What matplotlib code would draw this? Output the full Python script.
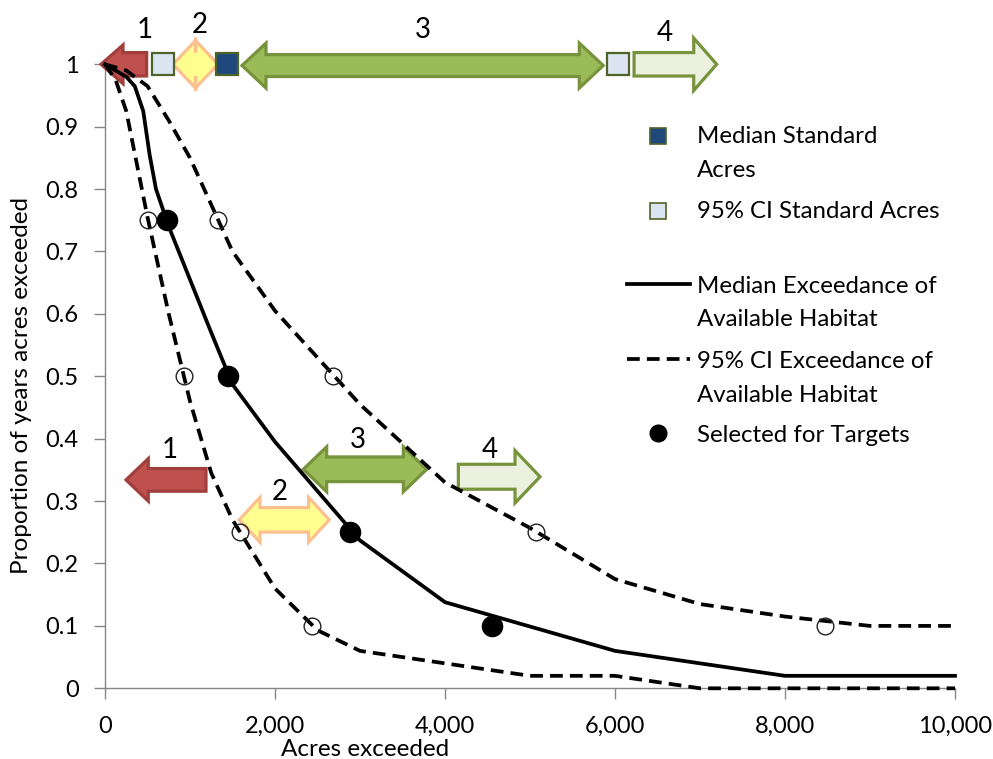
import matplotlib
matplotlib.use("Agg")
import matplotlib.pyplot as plt
from matplotlib.patches import Polygon
from matplotlib.ticker import FuncFormatter, MultipleLocator

plt.rcParams['font.family'] = ['Lato', 'DejaVu Sans']

# Exceedance curves (acres exceeded vs proportion of years)
median_x = [0, 250, 350, 450, 525, 600, 750, 1000, 1250, 1500, 2000, 3000, 4000, 6000, 8000, 10000]
median_y = [1.0, 0.98, 0.965, 0.925, 0.855, 0.80, 0.74, 0.655, 0.57, 0.487, 0.395, 0.237, 0.138, 0.06, 0.02, 0.02]

upper_x = [0, 250, 500, 750, 1000, 1500, 2000, 3000, 4000, 5000, 6000, 7000, 8000, 9000, 10000]
upper_y = [1.0, 0.99, 0.965, 0.91, 0.85, 0.70, 0.605, 0.455, 0.33, 0.257, 0.175, 0.135, 0.115, 0.10, 0.10]

lower_x = [0, 125, 250, 500, 750, 1000, 1250, 1500, 2000, 2500, 3000, 4000, 5000, 6000, 7000, 8000, 9000, 10000]
lower_y = [1.0, 0.975, 0.925, 0.755, 0.60, 0.46, 0.345, 0.27, 0.16, 0.093, 0.06, 0.04, 0.02, 0.02, 0.0, 0.0, 0.0, 0.0]

# Points at the target proportions
target_p = [0.75, 0.5, 0.25, 0.1]
selected_x = [726, 1443, 2882, 4553]
ci_low_x = [506, 933, 1588, 2432]
ci_high_x = [1333, 2686, 5071, 8467]

# Standard acres shown along the top (proportion = 1)
median_standard_x = [1435]
ci_standard_x = [688, 6035]

# Range arrows: (kind, start, end, y, head length, body half-height, head half-height, face, edge, label, label x, label y)
range_arrows = [
    ("left",   -47,  490, 1.0,   259, 0.0188, 0.031, "#c0504d", "#a03f3c", "1",  471, 1.055),
    ("double", 800, 1330, 1.0,   265, 0.0188, 0.038, "#ffff8f", "#fac090", "2", 1118, 1.063),
    ("double", 1612, 5862, 0.998, 282, 0.0176, 0.036, "#9bbb59", "#77933c", "3", 3741, 1.055),
    ("right",  6224, 7196, 1.0,   270, 0.0188, 0.042, "#ebf1de", "#77933c", "4", 6588, 1.050),
    ("left",   247, 1188, 0.334,  262, 0.0182, 0.034, "#c0504d", "#a03f3c", "1",  765, 0.382),
    ("double", 1580, 2639, 0.270, 244, 0.0196, 0.036, "#ffff8f", "#fac090", "2", 2059, 0.315),
    ("double", 2333, 3785, 0.351, 275, 0.0198, 0.036, "#9bbb59", "#77933c", "3", 2980, 0.398),
    ("right",  4157, 5118, 0.339, 294, 0.0200, 0.042, "#ebf1de", "#77933c", "4", 4529, 0.382),
]


def arrow_vertices(kind, x0, x1, y, hl, bh, hh):
    if kind == "left":
        return [(x0, y), (x0 + hl, y + hh), (x0 + hl, y + bh), (x1, y + bh),
                (x1, y - bh), (x0 + hl, y - bh), (x0 + hl, y - hh)]
    if kind == "right":
        return [(x1, y), (x1 - hl, y + hh), (x1 - hl, y + bh), (x0, y + bh),
                (x0, y - bh), (x1 - hl, y - bh), (x1 - hl, y - hh)]
    return [(x0, y), (x0 + hl, y + hh), (x0 + hl, y + bh), (x1 - hl, y + bh),
            (x1 - hl, y + hh), (x1, y), (x1 - hl, y - hh), (x1 - hl, y - bh),
            (x0 + hl, y - bh), (x0 + hl, y - hh)]


fig = plt.figure(figsize=(9.93, 7.59), dpi=100)
ax = fig.add_axes([105 / 993, (759 - 688.3) / 759, 850 / 993, 624 / 759])

ax.set_xlim(0, 10000)
ax.set_ylim(0, 1)

axis_grey = "#868686"
for side in ("top", "right"):
    ax.spines[side].set_visible(False)
for side in ("left", "bottom"):
    ax.spines[side].set_color(axis_grey)
    ax.spines[side].set_linewidth(1.0)

ax.xaxis.set_major_locator(MultipleLocator(2000))
ax.yaxis.set_major_locator(MultipleLocator(0.1))
ax.xaxis.set_major_formatter(FuncFormatter(lambda v, p: f"{int(round(v)):,}"))
ax.yaxis.set_major_formatter(FuncFormatter(
    lambda v, p: f"{int(round(v))}" if round(v, 6) in (0, 1) else f"{v:.1f}"))
ax.tick_params(axis="both", direction="out", length=8, width=1, color=axis_grey,
               labelsize=17, labelcolor="black")
ax.tick_params(axis="x", pad=12)
ax.tick_params(axis="y", pad=11)

ax.set_xlabel("Acres exceeded", fontsize=17.5, va="center")
ax.xaxis.set_label_coords((365 - 105) / 850, (688.3 - 749) / 624)
ax.set_ylabel("Proportion of years acres exceeded", fontsize=17.5, va="center")
ax.yaxis.set_label_coords((22 - 105) / 850, (688.3 - 385) / 624)

# Range arrows and their numbers
for kind, x0, x1, y, hl, bh, hh, face, edge, lab, lx, ly in range_arrows:
    poly = Polygon(arrow_vertices(kind, x0, x1, y, hl, bh, hh), closed=True,
                   facecolor=face, edgecolor=edge, linewidth=2.3,
                   joinstyle="miter", clip_on=False, zorder=3)
    ax.add_patch(poly)
    ax.text(lx, ly, lab, fontsize=20, ha="center", va="center", zorder=6, clip_on=False)

# Exceedance lines
dash = (3.4, 1.9)
ax.plot(upper_x, upper_y, color="black", lw=2.7, dashes=dash, clip_on=False, zorder=4)
ax.plot(lower_x, lower_y, color="black", lw=2.7, dashes=dash, clip_on=False, zorder=4)
ax.plot(median_x, median_y, color="black", lw=2.7, clip_on=False, zorder=4)

# Open circles on the confidence curves, filled dots on the median
ax.plot(ci_low_x, target_p, ls="none", marker="o", ms=12, mfc="none", mec="#222222",
        mew=1.0, zorder=5, clip_on=False)
ax.plot(ci_high_x, target_p, ls="none", marker="o", ms=12, mfc="none", mec="#222222",
        mew=1.0, zorder=5, clip_on=False)
ax.plot(selected_x, target_p, ls="none", marker="o", ms=14.5, mfc="black", mec="black",
        zorder=5, clip_on=False)

# Standard acres squares
ax.plot(ci_standard_x, [1.0] * len(ci_standard_x), ls="none", marker="s", ms=16.5,
        mfc="#dbe5f1", mec="#4f6228", mew=1.6, zorder=5, clip_on=False)
ax.plot(median_standard_x, [1.0] * len(median_standard_x), ls="none", marker="s", ms=16.5,
        mfc="#1f497d", mec="#4f6228", mew=1.6, zorder=5, clip_on=False)


# Legend drawn in axes fractions
def fx(px):
    return (px - 105) / 850


def fy(py):
    return (688.3 - py) / 624


T = ax.transAxes
lx_mark, lx_text = 658.3, 696.7
ax.plot([fx(lx_mark)], [fy(136)], transform=T, marker="s", ms=12, mfc="#1f497d",
        mec="#4f6228", mew=1.2, ls="none", clip_on=False)
ax.plot([fx(lx_mark)], [fy(211)], transform=T, marker="s", ms=12, mfc="#dbe5f1",
        mec="#4f6228", mew=1.2, ls="none", clip_on=False)
ax.plot([fx(626.7), fx(690)], [fy(284.3)] * 2, transform=T, color="black", lw=2.7,
        clip_on=False)
ax.plot([fx(626.7), fx(690)], [fy(359.3)] * 2, transform=T, color="black", lw=2.7,
        dashes=dash, clip_on=False)
ax.plot([fx(lx_mark)], [fy(433.3)], transform=T, marker="o", ms=12, mfc="black",
        mec="black", ls="none", clip_on=False)

legend_lines = [
    ("Median Standard", 143.3), ("Acres", 176.7),
    ("95% CI Standard Acres", 218.3),
    ("Median Exceedance of", 292.7), ("Available Habitat", 326.0),
    ("95% CI Exceedance of", 368.3), ("Available Habitat", 401.7),
    ("Selected for Targets", 441.7),
]
for txt, base in legend_lines:
    ax.text(fx(lx_text), fy(base), txt, transform=T, fontsize=17.3, ha="left",
            va="baseline", clip_on=False)

fig.savefig("out.png", dpi=100)
